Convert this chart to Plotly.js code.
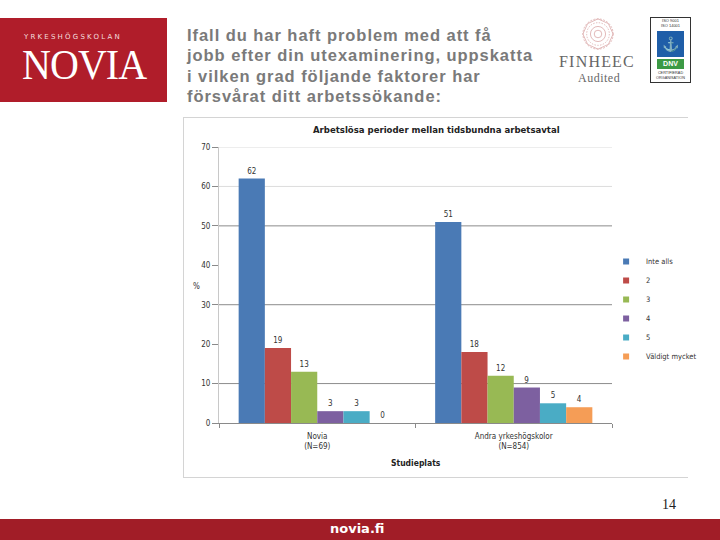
<!DOCTYPE html>
<html>
<head>
<meta charset="utf-8">
<script src="https://cdn.plot.ly/plotly-3.0.1.min.js"></script>
<style>
  html,body{margin:0;padding:0;background:#fff;width:720px;height:540px;overflow:hidden;font-family:"Liberation Sans",Arial,sans-serif;}
  .abs{position:absolute;}
  #panel{left:183px;top:117px;width:505px;height:361px;border:1px solid #d4d4d4;border-right:none;background:#fff;box-sizing:border-box;z-index:0;}
  #chart{left:0;top:0;width:720px;height:540px;z-index:1;}
  #logo{left:0;top:18px;width:167px;height:84px;background:#b01d2a;z-index:2;}
  #question{left:187px;top:25px;width:375px;font-weight:bold;font-size:16.5px;line-height:20.3px;color:#7a7a7a;letter-spacing:0.95px;white-space:nowrap;z-index:2;}
  #footer{left:0;top:519px;width:720px;height:21px;background:#a11d27;z-index:2;}
</style>
</head>
<body>
<div id="panel" class="abs"></div>
<div id="chart" class="abs"></div>

<div id="logo" class="abs">
  <div class="abs" style="left:24px;top:15px;font-size:7px;line-height:8px;letter-spacing:2.2px;color:#f3dede;font-family:'DejaVu Sans',sans-serif;">YRKESHÖGSKOLAN</div>
  <div class="abs" style="left:22px;top:31px;font-size:43px;line-height:31px;color:#fff;font-family:'Liberation Serif',serif;transform:scaleX(0.93);transform-origin:left top;letter-spacing:-1px;">NOVIA</div>
</div>

<div id="question" class="abs">Ifall du har haft problem med att få<br>jobb efter din utexaminering, uppskatta<br>i vilken grad följande faktorer har<br>försvårat ditt arbetssökande:</div>

<div class="abs" style="left:581px;top:17px;width:34px;height:34px;z-index:2;">
  <svg width="34" height="34" viewBox="0 0 36 36">
    <g fill="none" stroke="#d9a3a3" stroke-width="0.8">
      <circle cx="18" cy="18" r="16" stroke-dasharray="2 1.5"/>
      <circle cx="18" cy="18" r="12" stroke-dasharray="1.5 1.5"/>
      <circle cx="18" cy="18" r="8"/>
      <circle cx="18" cy="18" r="4"/>
      <polygon points="18,2 29,7 34,18 29,29 18,34 7,29 2,18 7,7"/>
    </g>
  </svg>
</div>
<div class="abs" style="left:559px;top:53.5px;font-size:16px;line-height:16px;color:#666;font-family:'Liberation Serif',serif;letter-spacing:1.2px;z-index:2;">FINHEEC</div>
<div class="abs" style="left:578px;top:71.5px;font-size:12px;line-height:12px;color:#666;font-family:'Liberation Serif',serif;letter-spacing:0.5px;z-index:2;">Audited</div>

<div class="abs" style="left:650px;top:17px;width:41px;height:66px;border:1px solid #333;box-sizing:border-box;background:#fff;z-index:2;">
  <div class="abs" style="left:0;top:1px;width:39px;text-align:center;font-size:4px;line-height:4.5px;color:#333;">ISO 9001<br>ISO 14001</div>
  <div class="abs" style="left:6px;top:13px;width:27px;height:26px;background:#1f5ea8;color:#fff;font-size:14px;line-height:26px;text-align:center;">⚓</div>
  <div class="abs" style="left:6px;top:41px;width:27px;height:10px;background:#3c9a45;color:#fff;font-size:7px;font-weight:bold;line-height:10px;text-align:center;">DNV</div>
  <div class="abs" style="left:0;top:53px;width:39px;text-align:center;font-size:3.8px;line-height:4.5px;color:#333;">CERTIFIERAD<br>ORGANISATION</div>
</div>

<div class="abs" style="left:662px;top:497px;font-size:14px;color:#222;font-family:'Liberation Serif',serif;z-index:2;">14</div>
<div id="footer" class="abs">
  <div class="abs" style="left:330px;top:2px;font-size:13px;font-weight:bold;color:#fff;font-family:'DejaVu Sans',sans-serif;">novia.fi</div>
</div>

<script>
// ---- data ----
const categories = ['Novia<br>(N=69)', 'Andra yrkeshögskolor<br>(N=854)'];
const seriesNames = ['Inte alls', '2', '3', '4', '5', 'Väldigt mycket'];
const noviaValues = [62, 19, 13, 3, 3, 0];
const andraValues = [51, 18, 12, 9, 5, 4];
const seriesColors = ['#4a7ab5', '#be4b48', '#98b954', '#7d60a0', '#4aacc5', '#f59d56'];
const yTickValues = [0, 10, 20, 30, 40, 50, 60, 70];
const gridDark = [10, 30, 50];
const gridLight = [60, 70];

const chartFont = 'Liberation Sans Narrow, DejaVu Sans Condensed, Arial Narrow, sans-serif';

const barTraces = seriesNames.map((name, i) => ({
  type: 'bar',
  name: name,
  legendgroup: name,
  showlegend: false,
  x: categories,
  y: [noviaValues[i], andraValues[i]],
  text: [String(noviaValues[i]), String(andraValues[i])],
  textposition: 'outside',
  cliponaxis: false,
  textfont: {size: 8, color: '#333', family: chartFont},
  marker: {color: seriesColors[i], line: {width: 0}},
  hoverinfo: 'none'
}));

// legend entries with small square keys (no data points)
const legendTraces = seriesNames.map((name, i) => ({
  type: 'scatter',
  mode: 'markers',
  name: name,
  legendgroup: name,
  x: [null], y: [null],
  marker: {symbol: 'square', size: 6, color: seriesColors[i]},
  hoverinfo: 'none'
}));

const shapes = [];
gridDark.forEach(v => shapes.push({type: 'line', xref: 'paper', yref: 'y', x0: 0, x1: 1, y0: v, y1: v, line: {color: '#8c8c8c', width: 1}, layer: 'below'}));
gridLight.forEach(v => shapes.push({type: 'line', xref: 'paper', yref: 'y', x0: 0, x1: 1, y0: v, y1: v, line: {color: '#dcdcdc', width: 1}, layer: 'below'}));

const layout = {
  width: 720, height: 540,
  margin: {l: 219, r: 108, t: 147, b: 117, pad: 0, autoexpand: false},
  paper_bgcolor: 'rgba(0,0,0,0)',
  plot_bgcolor: 'rgba(0,0,0,0)',
  barmode: 'group',
  bargap: 0.2,
  bargroupgap: 0,
  font: {family: chartFont, color: '#333', size: 8},
  title: {
    text: 'Arbetslösa perioder mellan tidsbundna arbetsavtal',
    font: {family: chartFont, size: 9.5, color: '#222', weight: 'bold'},
    xref: 'container', x: 0.606, xanchor: 'center',
    yref: 'container', y: 1 - 130/540, yanchor: 'middle'
  },
  xaxis: {
    type: 'category',
    tickson: 'boundaries',
    ticks: 'outside', ticklen: 4, tickcolor: '#8a8a8a',
    showline: true, linecolor: '#8a8a8a', linewidth: 1,
    showgrid: false, zeroline: false,
    tickfont: {size: 8, color: '#333', family: chartFont},
    ticklabelstandoff: 5
  },
  yaxis: {
    range: [0, 70],
    tickvals: yTickValues,
    ticks: 'outside', ticklen: 6, tickcolor: '#8a8a8a',
    showline: true, linecolor: '#c8c8c8', linewidth: 1,
    showgrid: false, zeroline: false,
    tickfont: {size: 8, color: '#333', family: chartFont}
  },
  shapes: shapes,
  legend: {
    x: 0.985, xanchor: 'left',
    y: (423 - 247) / 276, yanchor: 'top',
    font: {size: 7.5, color: '#333', family: chartFont},
    bgcolor: 'rgba(0,0,0,0)',
    itemwidth: 30,
    tracegroupgap: 0
  },
  annotations: [
    {text: 'Studieplats', xref: 'paper', yref: 'paper', x: 0.5, y: (423 - 463) / 276, xanchor: 'center', yanchor: 'middle', showarrow: false, font: {size: 8.5, color: '#222', family: chartFont, weight: 'bold'}},
    {text: '%', xref: 'paper', yref: 'paper', x: (196 - 219) / 393, y: (423 - 286) / 276, xanchor: 'center', yanchor: 'middle', showarrow: false, font: {size: 8, color: '#333', family: chartFont}}
  ]
};

Plotly.newPlot('chart', barTraces.concat(legendTraces), layout, {staticPlot: true, displayModeBar: false});
</script>
</body>
</html>
